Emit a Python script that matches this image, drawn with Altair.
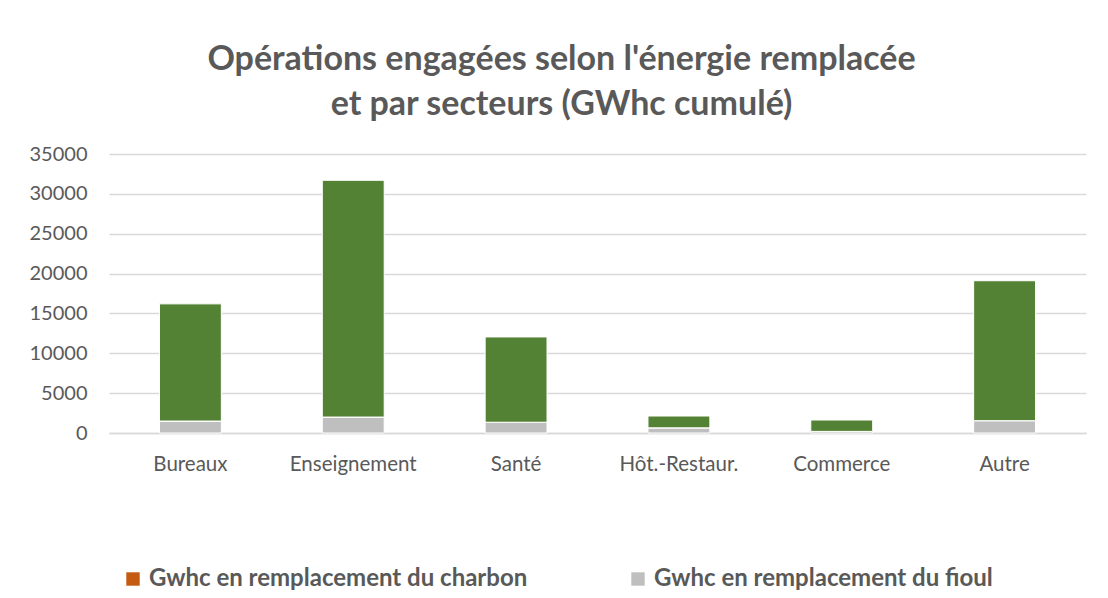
import altair as alt
import pandas as pd

sectors = ["Bureaux", "Enseignement", "Santé", "Hôt.-Restaur.", "Commerce", "Autre"]
fioul = [1500, 2000, 1350, 650, 200, 1550]
charbon = [0, 0, 0, 0, 0, 0]
gaz = [14700, 29700, 10700, 1480, 1430, 17550]

S_CHARBON = "Gwhc en remplacement du charbon"
S_FIOUL = "Gwhc en remplacement du fioul"
S_GAZ = "Gwhc en remplacement du gaz"

rows = []
for i, s in enumerate(sectors):
    rows.append({"secteur": s, "serie": S_FIOUL, "val": fioul[i], "ord": 0})
    rows.append({"secteur": s, "serie": S_CHARBON, "val": charbon[i], "ord": 1})
    rows.append({"secteur": s, "serie": S_GAZ, "val": gaz[i], "ord": 2})
df = pd.DataFrame(rows)

FONT = "Lato"
TXT = "#595959"

chart = alt.Chart(df).mark_bar(stroke="white", strokeWidth=1).encode(
    x=alt.X("secteur:N", sort=sectors, title=None,
            scale=alt.Scale(paddingInner=0.62, paddingOuter=0.31),
            axis=alt.Axis(labelAngle=0, labelFontSize=20.5, labelColor=TXT, labelFont=FONT,
                          ticks=False, domainColor="#D9D9D9", domainWidth=1.5, labelPadding=21)),
    y=alt.Y("val:Q", stack="zero", title=None,
            scale=alt.Scale(domain=[0, 35000]),
            axis=alt.Axis(values=list(range(0, 35001, 5000)), labelFontSize=20, labelColor=TXT,
                          labelFont=FONT, ticks=False, domain=False, gridColor="#D9D9D9",
                          gridWidth=1.5, labelPadding=22, format="d")),
    color=alt.Color("serie:N",
                    scale=alt.Scale(domain=[S_CHARBON, S_FIOUL, S_GAZ],
                                    range=["#C55A11", "#BFBFBF", "#548235"]),
                    legend=alt.Legend(values=[S_CHARBON, S_FIOUL], title=None, orient="none",
                                      legendX=12, legendY=413, direction="horizontal", columns=2,
                                      columnPadding=98, symbolType="square", symbolSize=180,
                                      symbolStrokeWidth=0, labelFontSize=24, labelFontWeight="bold",
                                      labelColor=TXT, labelFont=FONT, labelLimit=600)),
    order=alt.Order("ord:Q"),
).properties(
    width=977,
    height=279,
    title=alt.TitleParams(
        text=["Opérations engagées selon l'énergie remplacée", "et par secteurs (GWhc cumulé)"],
        fontSize=34, fontWeight="bold", color=TXT, font=FONT, anchor="middle",
        dx=-36, offset=22, lineHeight=45),
    autosize=alt.AutoSizeParams(type="none"),
    padding={"left": 101, "top": 146, "right": 14, "bottom": 157},
).configure_view(stroke=None)

chart.save("out.html", embed_options={"renderer": "svg", "actions": False})
